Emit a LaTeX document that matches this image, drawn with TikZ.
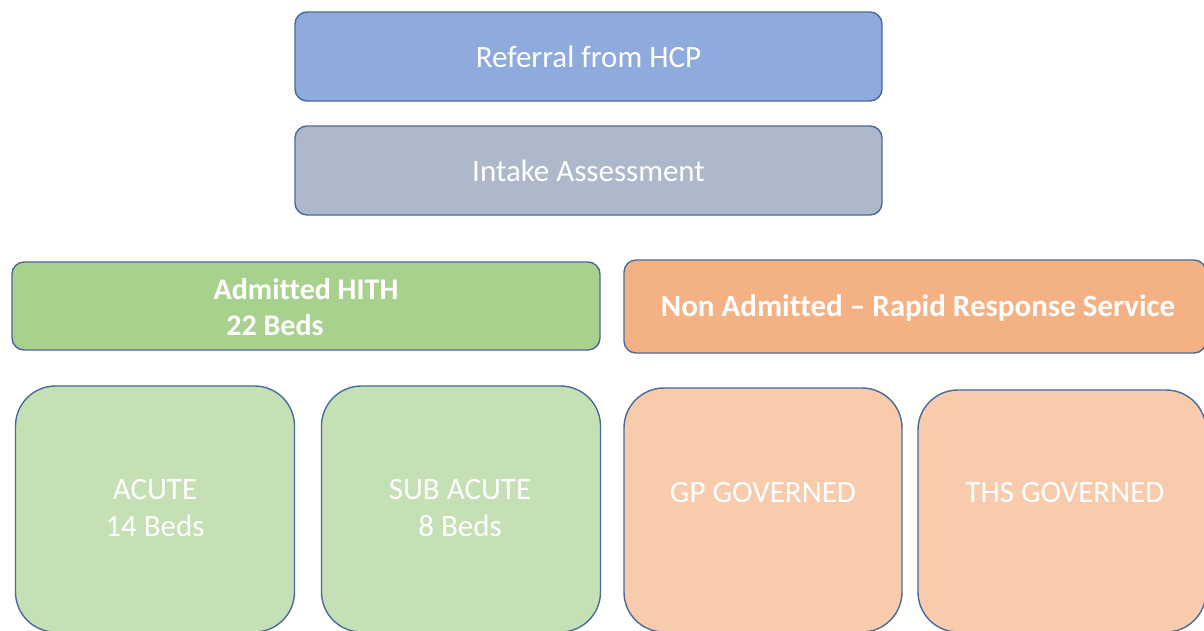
\documentclass[tikz,border=0pt]{standalone}
\usepackage{fontspec}
\setmainfont{Carlito}[Ligatures=NoCommon]
\definecolor{edge}{HTML}{4A6A9C}
\definecolor{blueF}{HTML}{8FAADC}
\definecolor{greyF}{HTML}{ADB9CA}
\definecolor{greenF}{HTML}{A9D18E}
\definecolor{orangeF}{HTML}{F4B183}
\definecolor{lgreenF}{HTML}{C5E0B4}
\definecolor{lorangeF}{HTML}{F8CBAD}
\tikzset{
  box/.style={draw=edge, line width=1.4pt, rounded corners=12pt, inner sep=0pt,
    text=white, font=\fontsize{31}{37}\selectfont, align=center},
  bigbox/.style={box, rounded corners=40pt},
  lbl/.style={text=white, inner sep=0pt, align=center, font=\fontsize{31}{37}\selectfont},
  boldlbl/.style={lbl, font=\bfseries\fontsize{30}{37}\selectfont}
}
\begin{document}
\begin{tikzpicture}[x=1pt,y=-1pt]
\useasboundingbox (0,0) rectangle (1204,630);
\fill[white] (0,0) rectangle (1204,630);
% intake chain
\node[box, fill=blueF, minimum width=587pt, minimum height=89pt] (ref) at (588.5,56.5) {Referral from HCP};
\node[box, fill=greyF, minimum width=587pt, minimum height=89pt] (intake) at (588.5,170.5) {Intake Assessment};
% service streams
\node[box, fill=greenF, minimum width=588pt, minimum height=88pt] (adm) at (306,306) {};
\node[boldlbl] (admA) at (306,289) {Admitted HITH};
\node[boldlbl] (admB) at (275,325) {22 Beds};
\node[box, fill=orangeF, minimum width=582pt, minimum height=93pt] (non) at (915,306.5) {};
\node[boldlbl, font=\bfseries\fontsize{31}{37}\selectfont] (nonT) at (918,308) {Non Admitted -- Rapid Response Service};
% sub-streams
\node[bigbox, fill=lgreenF, minimum width=279pt, minimum height=246pt] (acute) at (155,509) {};
\node[lbl] (acuteT) at (155,508) {ACUTE\\14 Beds};
\node[bigbox, fill=lgreenF, minimum width=279pt, minimum height=246pt] (sub) at (461,509) {};
\node[lbl] (subT) at (460,508) {SUB ACUTE\\8 Beds};
\node[bigbox, fill=lorangeF, minimum width=278pt, minimum height=244pt] (gp) at (763,510) {};
\node[lbl] (gpT) at (763,493) {GP GOVERNED};
\node[bigbox, fill=lorangeF, minimum width=288pt, minimum height=242pt] (ths) at (1062,511) {};
\node[lbl] (thsT) at (1065,493) {THS GOVERNED};
\end{tikzpicture}
\end{document}
